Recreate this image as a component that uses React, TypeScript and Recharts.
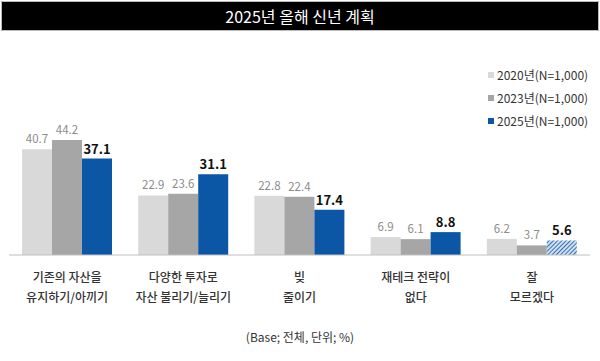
import React from 'react';
import { BarChart, Bar, XAxis, YAxis, LabelList, Cell } from 'recharts';

const categories = [
  '기존의 자산을\n유지하기/아끼기',
  '다양한 투자로\n자산 불리기/늘리기',
  '빚\n줄이기',
  '재테크 전략이\n없다',
  '잘\n모르겠다',
];
const values2020 = [40.7, 22.9, 22.8, 6.9, 6.2];
const values2023 = [44.2, 23.6, 22.4, 6.1, 3.7];
const values2025 = [37.1, 31.1, 17.4, 8.8, 5.6];
const seriesNames = ['2020년(N=1,000)', '2023년(N=1,000)', '2025년(N=1,000)'];

const FONT = '"Noto Sans CJK KR", "Noto Sans", sans-serif';
const colors = ['#d9d9d9', '#a6a6a6', '#0b57a6'];

const data = categories.map((name, i) => ({
  name,
  y2020: values2020[i],
  y2023: values2023[i],
  y2025: values2025[i],
}));

function CategoryTick(props: any) {
  const { x, y, payload } = props;
  const lines = String(payload.value).split('\n');
  return (
    <g transform={`translate(${x},${y})`}>
      {lines.map((line: string, i: number) => (
        <text
          key={i}
          x={0}
          y={19 + i * 20}
          textAnchor="middle"
          fontSize={12}
          fontWeight={500}
          fontFamily={FONT}
          fill="#333"
        >
          {line}
        </text>
      ))}
    </g>
  );
}

export default function App() {
  return (
    <div
      style={{
        position: 'absolute',
        left: 0,
        top: 0,
        width: 600,
        height: 361,
        background: '#fff',
        fontFamily: FONT,
      }}
    >
      <div
        style={{
          position: 'absolute',
          left: 1,
          top: 1,
          width: 596,
          height: 28,
          background: '#000',
          border: '1px solid #bbb',
          color: '#fff',
          fontSize: 16,
          lineHeight: '28px',
          textAlign: 'center',
        }}
      >
        2025년 올해 신년 계획
      </div>
      <div
        style={{
          position: 'absolute',
          left: 488,
          top: 63,
          fontSize: 12,
          color: '#333',
        }}
      >
        {seriesNames.map((n, i) => (
          <div key={n} style={{ display: 'flex', alignItems: 'center', height: 23 }}>
            <span
              style={{
                display: 'inline-block',
                width: 6,
                height: 6,
                background: colors[i],
                marginRight: 3,
              }}
            />
            {n}
          </div>
        ))}
      </div>
      <div style={{ position: 'absolute', left: 0, top: 0 }}>
        <BarChart
          width={600}
          height={361}
          data={data}
          margin={{ top: 125, right: 10, bottom: 56, left: 9 }}
          barGap={0}
          barSize={30}
        >
          <defs>
            <pattern id="hatch" width="3" height="3" patternUnits="userSpaceOnUse" patternTransform="rotate(45)">
              <rect width="3" height="3" fill="#cfe0f2" />
              <line x1="0" y1="0" x2="0" y2="3" stroke="#2563a8" strokeWidth="1.8" />
            </pattern>
          </defs>
          <XAxis
            dataKey="name"
            height={50}
            tickLine={false}
            axisLine={{ stroke: '#bfbfbf' }}
            tick={<CategoryTick />}
            interval={0}
          />
          <YAxis hide domain={[0, 50]} />
          <Bar dataKey="y2020" fill={colors[0]} isAnimationActive={false}>
            <LabelList dataKey="y2020" position="top" offset={6} fill="#8c8c8c" fontSize={11.5} fontFamily={FONT} />
          </Bar>
          <Bar dataKey="y2023" fill={colors[1]} isAnimationActive={false}>
            <LabelList dataKey="y2023" position="top" offset={6} fill="#8c8c8c" fontSize={11.5} fontFamily={FONT} />
          </Bar>
          <Bar dataKey="y2025" fill={colors[2]} isAnimationActive={false}>
            {data.map((d, i) => (
              <Cell key={d.name} fill={i === data.length - 1 ? 'url(#hatch)' : colors[2]} />
            ))}
            <LabelList
              dataKey="y2025"
              position="top"
              offset={5}
              fill="#111"
              fontSize={13}
              fontWeight="bold"
              fontFamily={FONT}
            />
          </Bar>
        </BarChart>
      </div>
      <div
        style={{
          position: 'absolute',
          left: 0,
          top: 328,
          width: 600,
          textAlign: 'center',
          fontSize: 12,
          color: '#333',
        }}
      >
        (Base; 전체, 단위; %)
      </div>
    </div>
  );
}
